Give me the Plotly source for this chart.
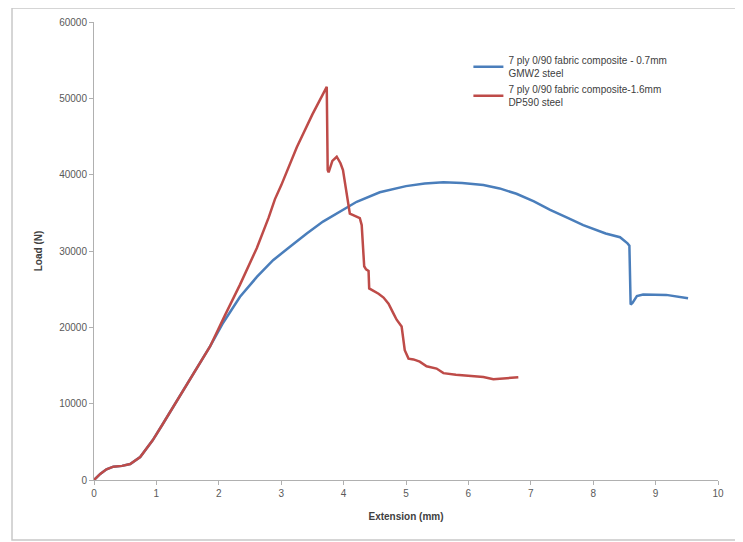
import plotly.graph_objects as go

# Series 1: 7 ply 0/90 fabric composite - 0.7mm GMW2 steel
gmw2_ext = [0, 0.1, 0.2, 0.31, 0.45, 0.58, 0.74, 0.94, 1.1, 1.3, 1.5, 1.7, 1.86,
            2.07, 2.34, 2.61, 2.87, 3.14, 3.41, 3.67, 3.94, 4.21, 4.58, 5.0, 5.3, 5.6, 5.9,
            6.24, 6.5, 6.77, 7.05, 7.31, 7.6, 7.84, 8.2, 8.43, 8.55, 8.58, 8.60,
            8.63, 8.70, 8.80, 9.17, 9.52]
gmw2_load = [0, 800, 1400, 1750, 1850, 2100, 3000, 5200, 7300, 10000, 12700, 15300, 17500,
             20600, 24000, 26600, 28800, 30550, 32300, 33850, 35150, 36450, 37700, 38500, 38850, 39000, 38900,
             38650, 38200, 37500, 36500, 35400, 34300, 33400, 32300, 31800, 31000, 30700, 23000,
             23200, 24100, 24300, 24250, 23800]

# Series 2: 7 ply 0/90 fabric composite-1.6mm DP590 steel
dp590_ext = [0, 0.1, 0.2, 0.31, 0.45, 0.58, 0.74, 0.94, 1.1, 1.3, 1.5, 1.7, 1.86,
             2.1, 2.34, 2.61, 2.8, 2.9, 3.0, 3.25, 3.5, 3.73, 3.745, 3.76, 3.82, 3.89, 3.95,
             3.99, 4.03, 4.08, 4.10, 4.18, 4.26, 4.29, 4.33, 4.36, 4.40, 4.41, 4.48,
             4.56, 4.64, 4.72, 4.80, 4.85, 4.93, 4.98, 5.04, 5.12, 5.22, 5.33, 5.49,
             5.60, 5.8, 5.97, 6.24, 6.40, 6.56, 6.80]
dp590_load = [0, 800, 1400, 1750, 1850, 2100, 3000, 5200, 7300, 10000, 12700, 15300, 17500,
              21600, 25600, 30400, 34400, 36800, 38600, 43600, 47900, 51500, 40600, 40300, 41800, 42350, 41500,
              40600, 38500, 35800, 34900, 34600, 34300, 33400, 28000, 27600, 27400, 25100, 24800,
              24400, 23900, 23100, 21800, 21000, 20100, 17000, 15900, 15800, 15500, 14900, 14600,
              14000, 13800, 13650, 13500, 13200, 13300, 13450]

x_ticks = [0, 1, 2, 3, 4, 5, 6, 7, 8, 9, 10]
y_ticks = [0, 10000, 20000, 30000, 40000, 50000, 60000]

FONT = "Liberation Sans, Arial, sans-serif"

fig = go.Figure()
fig.add_trace(go.Scatter(
    x=gmw2_ext, y=gmw2_load, mode="lines",
    name="7 ply 0/90 fabric composite - 0.7mm<br>GMW2 steel",
    line=dict(color="#4a7ebb", width=2.5),
))
fig.add_trace(go.Scatter(
    x=dp590_ext, y=dp590_load, mode="lines",
    name="7 ply 0/90 fabric composite-1.6mm<br>DP590 steel",
    line=dict(color="#be4b48", width=2.5),
))

axis_common = dict(
    showgrid=False, zeroline=False, showline=True, linecolor="#b0b0b0", linewidth=1,
    ticks="outside", ticklen=4, tickcolor="#b0b0b0",
    tickfont=dict(family=FONT, size=10, color="#595959"),
)

fig.update_layout(
    width=735, height=534,
    margin=dict(l=86, r=25, t=14, b=62, autoexpand=False),
    paper_bgcolor="white", plot_bgcolor="white",
    showlegend=True,
    legend=dict(
        x=0.6, y=0.945, xanchor="left", yanchor="top",
        bgcolor="rgba(0,0,0,0)", itemwidth=30,
        font=dict(family=FONT, size=10, color="#404040"),
        tracegroupgap=6,
    ),
    xaxis=dict(
        range=[0, 10], tickvals=x_ticks, tickformat="d",
        title=dict(text="<b>Extension (mm)</b>", standoff=14,
                   font=dict(family=FONT, size=10, color="#404040")),
        **axis_common,
    ),
    yaxis=dict(
        range=[0, 60000], tickvals=y_ticks, tickformat="d",
        title=dict(text="<b>Load (N)</b>", standoff=14,
                   font=dict(family=FONT, size=10, color="#404040")),
        **axis_common,
    ),
)

# Outer chart border
fig.add_shape(type="rect", xref="paper", yref="paper",
              x0=-0.1314, x1=1.045, y0=-0.131, y1=1.0306,
              line=dict(color="#c8c8c8", width=1.5), layer="below")

fig.write_html("out.html")
